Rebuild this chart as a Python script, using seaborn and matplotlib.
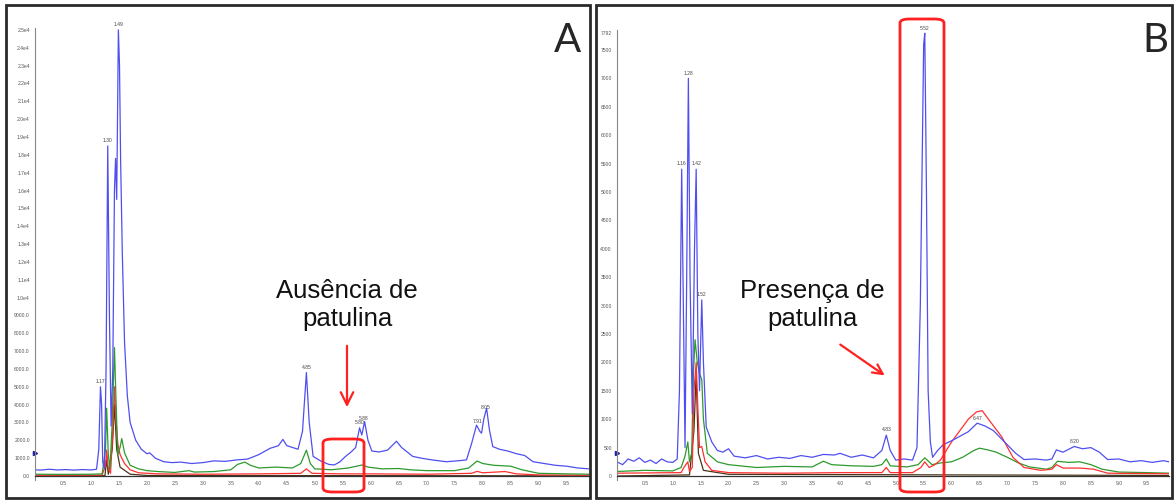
import numpy as np
import seaborn as sns
import matplotlib.pyplot as plt
from matplotlib.patches import Rectangle, FancyBboxPatch
from matplotlib.ticker import FixedLocator, MultipleLocator

sns.set_style("white")
plt.rcParams['font.family'] = ['Liberation Sans', 'DejaVu Sans']

# ---- painel A (ausência) ----
a_blue_t = [0.00, 0.10, 0.25, 0.40, 0.55, 0.70, 0.85, 1.00, 1.10, 1.14, 1.17, 1.19, 1.21, 1.24, 1.27,
            1.30, 1.33, 1.36, 1.39, 1.42, 1.44, 1.46, 1.49, 1.51, 1.53, 1.56, 1.60, 1.65, 1.70, 1.80,
            1.90, 2.00, 2.05, 2.15, 2.30, 2.45, 2.60, 2.80, 3.00, 3.20, 3.40, 3.60, 3.80, 4.00, 4.20,
            4.35, 4.43, 4.50, 4.60, 4.70, 4.78, 4.85, 4.90, 4.97, 5.10, 5.25, 5.35, 5.45, 5.55, 5.65,
            5.73, 5.80, 5.84, 5.89, 5.95, 6.02, 6.15, 6.30, 6.46, 6.55, 6.75, 6.90, 7.10, 7.35, 7.55,
            7.71, 7.80, 7.89, 7.95, 7.98, 8.02, 8.07, 8.12, 8.18, 8.30, 8.45, 8.60, 8.75, 8.90, 9.10,
            9.30, 9.50, 9.70, 9.90]
a_blue = [350, 330, 380, 340, 360, 330, 360, 340, 380, 1500, 5000, 4000, 800, 400, 6000,
          18500, 9000, 2800, 6000, 16000, 17800, 15500, 25000, 23000, 17700, 12500, 7500, 4500, 3000, 2000,
          1500, 1250, 1300, 1000, 800, 750, 780, 700, 750, 850, 820, 900, 950, 1200, 1550,
          1700, 2050, 1700, 1600, 1500, 2500, 5800, 3000, 1100, 850, 650, 620, 800, 1100, 1350,
          1600, 2700, 2300, 3050, 2000, 1400, 1350, 1450, 1950, 1600, 1100, 1000, 900, 800, 850,
          900, 1800, 2850, 2500, 2400, 3200, 3800, 2600, 1650, 1500, 1400, 1250, 1150, 800, 700,
          600, 550, 450, 400]
a_green_t = [0.0, 0.5, 1.0, 1.20, 1.26, 1.28, 1.31, 1.34, 1.38, 1.42, 1.45, 1.48, 1.52, 1.55, 1.60,
             1.70, 1.85, 2.0, 2.2, 2.5, 2.75, 2.85, 3.2, 3.5, 3.62, 3.75, 3.85, 4.0, 4.3, 4.6,
             4.75, 4.85, 4.92, 5.0, 5.3, 5.6, 5.85, 5.95, 6.2, 6.5, 6.7, 7.0, 7.5, 7.75, 7.9,
             8.0, 8.2, 8.5, 8.7, 9.0, 9.5, 9.9]
a_green = [100, 90, 100, 120, 1500, 3800, 1200, 400, 3000, 7200, 4000, 1200, 1600, 2100, 1300,
           600, 400, 300, 250, 200, 300, 220, 250, 350, 650, 780, 600, 450, 500, 450,
           700, 1450, 700, 400, 350, 450, 620, 500, 400, 420, 350, 300, 300, 450, 840,
           700, 600, 550, 350, 150, 120, 100]
a_red_t = [0.0, 1.2, 1.26, 1.28, 1.31, 1.35, 1.39, 1.42, 1.45, 1.48, 1.52, 1.6, 1.7, 1.85, 2.2,
           3.0, 4.0, 4.75, 4.85, 4.95, 5.5, 6.0, 7.0, 7.8, 7.9, 8.0, 8.4, 8.6, 9.0, 9.9]
a_red = [40, 50, 600, 1450, 400, 150, 2500, 5000, 3000, 1800, 1200, 700, 350, 180, 120,
         100, 120, 150, 400, 150, 120, 120, 100, 150, 260, 180, 250, 120, 60, 40]
a_dark_t = [0.0, 1.25, 1.28, 1.31, 1.38, 1.42, 1.46, 1.52, 1.7, 2.0, 9.9]
a_dark = [0, 20, 900, 100, 1500, 4000, 1500, 500, 100, 30, 10]
a_peaks = [1.17, 1.30, 1.49, 4.85, 5.80, 5.88, 7.91, 8.05]

# ---- painel B (presença) ----
b_blue_t = [0.0, 0.1, 0.2, 0.3, 0.4, 0.5, 0.6, 0.7, 0.8, 0.9, 1.0, 1.08, 1.12, 1.16, 1.19,
            1.22, 1.25, 1.28, 1.31, 1.35, 1.39, 1.42, 1.45, 1.48, 1.52, 1.55, 1.60, 1.70, 1.80, 1.90,
            2.00, 2.10, 2.30, 2.50, 2.70, 2.90, 3.10, 3.30, 3.50, 3.70, 3.90, 4.00, 4.20, 4.40, 4.60,
            4.75, 4.83, 4.90, 5.00, 5.15, 5.30, 5.38, 5.44, 5.50, 5.52, 5.55, 5.58, 5.62, 5.66, 5.75,
            5.85, 6.00, 6.15, 6.30, 6.46, 6.60, 6.75, 6.90, 7.00, 7.15, 7.30, 7.50, 7.70, 7.80, 7.88,
            8.00, 8.20, 8.35, 8.50, 8.65, 8.80, 9.00, 9.20, 9.40, 9.60, 9.80, 9.90]
b_blue = [250, 200, 300, 260, 320, 240, 280, 220, 300, 250, 240, 300, 1500, 5400, 3000,
          500, 3500, 7000, 3500, 1100, 4000, 5400, 2500, 1500, 3100, 2000, 860, 600, 450, 420,
          480, 350, 320, 360, 300, 330, 310, 360, 330, 380, 370, 400, 330, 370, 320,
          450, 720, 450, 280, 300, 280, 500, 3000, 7600, 7792, 5000, 1500, 600, 330, 450,
          550, 620, 700, 780, 930, 880, 800, 650, 550, 400, 290, 300, 280, 300, 460,
          420, 520, 480, 500, 420, 290, 300, 250, 270, 240, 270, 250]
b_red_t = [0.0, 1.15, 1.20, 1.27, 1.30, 1.35, 1.38, 1.42, 1.45, 1.48, 1.52, 1.58, 1.7, 2.0, 3.0,
           4.0, 4.75, 4.83, 4.9, 5.3, 5.45, 5.52, 5.6, 5.7, 5.8, 6.0, 6.15, 6.3, 6.45, 6.55,
           6.7, 6.9, 7.1, 7.3, 7.6, 7.8, 7.88, 8.0, 8.3, 8.55, 8.8, 9.9]
b_red = [50, 60, 150, 250, 80, 150, 1500, 2000, 1200, 500, 520, 250, 100, 60, 50,
         60, 60, 150, 60, 60, 150, 250, 150, 200, 280, 600, 800, 1000, 1130, 1150,
         950, 690, 330, 150, 100, 120, 200, 140, 140, 120, 50, 40]
b_green_t = [0.0, 0.5, 1.0, 1.15, 1.22, 1.27, 1.30, 1.34, 1.37, 1.40, 1.44, 1.48, 1.52, 1.55, 1.62,
             1.8, 2.0, 2.5, 3.0, 3.5, 3.7, 3.85, 4.2, 4.6, 4.75, 4.83, 4.9, 5.2, 5.4, 5.52,
             5.65, 5.8, 6.0, 6.2, 6.4, 6.5, 6.65, 6.8, 7.0, 7.2, 7.4, 7.7, 7.8, 7.9, 8.1,
             8.3, 8.5, 8.7, 9.0, 9.5, 9.9]
b_green = [80, 100, 90, 150, 350, 600, 250, 400, 1800, 2400, 2000, 1800, 1700, 1000, 400,
           250, 200, 150, 170, 160, 260, 200, 180, 170, 200, 300, 180, 160, 200, 320,
           200, 230, 250, 330, 450, 490, 460, 420, 330, 230, 160, 120, 150, 260, 240,
           250, 200, 120, 70, 60, 50]
b_dark_t = [0.0, 1.3, 1.38, 1.42, 1.46, 1.55, 2.0, 9.9]
b_dark = [0, 20, 800, 1800, 400, 100, 30, 10]
b_peaks = [1.16, 1.28, 1.42, 1.52, 4.83, 5.52, 6.47, 8.20]

a_yticks = list(range(0, 25001, 1000))
a_ylabels = [f"{v:.1f}" if v < 10000 else f"{v / 1e4:.1f}e4" for v in a_yticks]
b_yticks = list(range(0, 7501, 500)) + [7792]
b_ylabels = [str(v) for v in b_yticks]
x_ticks = [0.5 * i for i in range(1, 20)]

W, H = 1176, 501
fig = plt.figure(figsize=(W / 100, H / 100), dpi=100)


def px_box(x0, y0, x1, y1):
    return [x0 / W, 1 - y1 / H, (x1 - x0) / W, (y1 - y0) / H]


# molduras dos painéis
for x0, x1 in [(6, 590), (596, 1172)]:
    fig.patches.append(Rectangle((x0 / W, 1 - 498 / H), (x1 - x0) / W, 493 / H,
                                 transform=fig.transFigure, fill=False,
                                 edgecolor="#2a2a2a", linewidth=2))

ax_a = fig.add_axes(px_box(35, 28, 589, 480))
ax_b = fig.add_axes(px_box(617, 30, 1169, 480))

traces = {
    ax_a: [(a_dark_t, a_dark, "#4a3418"), (a_red_t, a_red, "#ff3030"),
           (a_green_t, a_green, "#2e9a2e"), (a_blue_t, a_blue, "#4f4ff0")],
    ax_b: [(b_dark_t, b_dark, "#4a3418"), (b_green_t, b_green, "#2e9a2e"),
           (b_red_t, b_red, "#ff3030"), (b_blue_t, b_blue, "#4f4ff0")],
}
for ax, lst in traces.items():
    for t, v, c in lst:
        sns.lineplot(x=t, y=v, ax=ax, color=c, lw=0.9, estimator=None, sort=False)

ax_a.set_ylim(-224, 25110)
ax_b.set_ylim(-70, 7850)
for ax, ticks, labels, minor in [(ax_a, a_yticks, a_ylabels, 250), (ax_b, b_yticks, b_ylabels, 100)]:
    ax.set_xlim(0, 9.9)
    ax.yaxis.set_major_locator(FixedLocator(ticks))
    ax.set_yticklabels(labels)
    ax.yaxis.set_minor_locator(MultipleLocator(minor))
    ax.set_xticks(x_ticks)
    ax.set_xticklabels([f"{x:.1f}" for x in x_ticks])
    ax.xaxis.set_minor_locator(MultipleLocator(0.1))
    ax.tick_params(which="both", direction="out", labelsize=3.6, labelcolor="#555555",
                   color="#777777", width=0.5, pad=1.5)
    ax.tick_params(which="major", length=2.2)
    ax.tick_params(which="minor", length=1.2)
    for s in ["top", "right"]:
        ax.spines[s].set_visible(False)
    ax.spines["left"].set_color("#888888")
    ax.spines["left"].set_linewidth(0.8)
    ax.spines["bottom"].set_position(("data", 0))
    ax.spines["bottom"].set_color("#333333")
    ax.spines["bottom"].set_linewidth(0.9)
    ax.patch.set_alpha(0)
    ax.set_xlabel("")
    ax.set_ylabel("")

# rótulos dos picos
for ax, peaks, t, v in [(ax_a, a_peaks, a_blue_t, a_blue), (ax_b, b_peaks, b_blue_t, b_blue)]:
    for p in peaks:
        ax.annotate(f"{p:.2f}", (p, np.interp(p, t, v)), xytext=(0, 2), textcoords="offset points",
                    ha="center", va="bottom", fontsize=3.6, color="#444444")

# marcador de linha de base
ax_a.plot([0], [1300], marker=">", color="#2020a0", ms=3, clip_on=False)
ax_b.plot([0], [400], marker=">", color="#2020a0", ms=3, clip_on=False)

# letras dos painéis
fig.text(568 / W, 1 - 40 / H, "A", fontsize=29, ha="center", va="center", family=["Lato", "DejaVu Sans"])
fig.text(1155 / W, 1 - 40 / H, "B", fontsize=29, ha="center", va="center", family=["Lato", "DejaVu Sans"])

# textos e setas
fig.text(347 / W, 1 - 305 / H, "Ausência de\npatulina", fontsize=18.5, ha="center", va="center",
         linespacing=1.22, color="#111111")
fig.text(812 / W, 1 - 305 / H, "Presença de\npatulina", fontsize=18.5, ha="center", va="center",
         linespacing=1.22, color="#111111")
fig.add_artist(plt.Annotation("", xy=(347 / W, 1 - 410 / H), xytext=(347 / W, 1 - 343 / H),
                              xycoords="figure fraction",
                              arrowprops=dict(arrowstyle="->,head_length=0.9,head_width=0.45",
                                              color="#ff2020", lw=1.6)))
fig.add_artist(plt.Annotation("", xy=(887 / W, 1 - 377 / H), xytext=(838 / W, 1 - 343 / H),
                              xycoords="figure fraction",
                              arrowprops=dict(arrowstyle="->,head_length=0.7,head_width=0.35",
                                              color="#ff2020", lw=1.6)))

# destaques vermelhos
for x0, y0, x1, y1 in [(323, 439, 364, 492), (900, 19, 944, 492)]:
    fig.patches.append(FancyBboxPatch((x0 / W, 1 - y1 / H), (x1 - x0) / W, (y1 - y0) / H,
                                      boxstyle="round,pad=0,rounding_size=0.008",
                                      transform=fig.transFigure, fill=False,
                                      edgecolor="#ff2020", linewidth=2))

fig.savefig("out.png", dpi=100, facecolor="white")
